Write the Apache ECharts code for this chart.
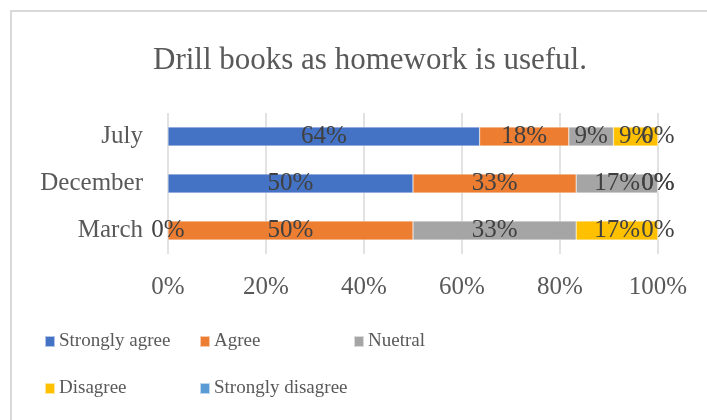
<!DOCTYPE html>
<html>
<head>
<meta charset="utf-8">
<script src="https://cdn.jsdelivr.net/npm/echarts@6/dist/echarts.min.js"></script>
<style>
  html, body { margin: 0; padding: 0; background: #fff; }
  #chart { width: 707px; height: 420px; }
</style>
</head>
<body>
<div id="chart"></div>
<script>
// survey data, percent of respondents
var months = ['March', 'December', 'July'];
var stronglyAgree = [0, 50, 63.6];
var agree = [50, 33.3, 18.2];
var nuetral = [33.3, 16.7, 9.1];
var disagree = [16.7, 0, 9.1];
var stronglyDisagree = [0, 0, 0];
var xTicks = [0, 20, 40, 60, 80, 100];

var seriesNames = ['Strongly agree', 'Agree', 'Nuetral', 'Disagree', 'Strongly disagree'];
var seriesData = [stronglyAgree, agree, nuetral, disagree, stronglyDisagree];
var colors = ['#4472C4', '#ED7D31', '#A5A5A5', '#FFC000', '#5B9BD5'];
var fontFam = 'Liberation Serif';

var chart = echarts.init(document.getElementById('chart'));

// one legend per item so they sit in Excel-like columns
var legendPos = [[44, 332], [199, 332], [353, 332], [44, 379], [199, 379]];
var legends = seriesNames.map(function (name, i) {
  return {
    data: [name],
    left: legendPos[i][0],
    top: legendPos[i][1],
    icon: 'rect',
    itemWidth: 10,
    itemHeight: 11,
    itemGap: 0,
    padding: 0,
    textStyle: { fontFamily: fontFam, fontSize: 19, color: '#595959', padding: [0, 0, 0, -1] }
  };
});

var option = {
  backgroundColor: '#ffffff',
  color: colors,
  animation: false,
  title: {
    text: 'Drill books as homework is useful.',
    left: 148,
    top: 40,
    textStyle: { fontFamily: fontFam, fontSize: 31, fontWeight: 'normal', color: '#595959' }
  },
  graphic: [{
    type: 'rect',
    shape: { x: 11, y: 11, width: 720, height: 440 },
    style: { fill: 'none', stroke: '#D9D9D9', lineWidth: 2 },
    silent: true
  }],
  legend: legends,
  grid: { left: 168, right: 49, top: 113, bottom: 166 },
  xAxis: {
    type: 'value',
    min: 0,
    max: 100,
    interval: 20,
    axisLine: { show: false },
    axisTick: { show: false },
    splitLine: { lineStyle: { color: '#D9D9D9', width: 1.5 } },
    axisLabel: {
      margin: 21,
      fontFamily: fontFam,
      fontSize: 25,
      color: '#595959',
      formatter: function (v) { return xTicks.indexOf(v) >= 0 ? v + '%' : ''; }
    }
  },
  yAxis: {
    type: 'category',
    data: months,
    axisLine: { show: false },
    axisTick: { show: false },
    axisLabel: { margin: 25, fontFamily: fontFam, fontSize: 25, color: '#595959' }
  },
  series: seriesNames.map(function (name, i) {
    return {
      name: name,
      type: 'bar',
      stack: 'total',
      barWidth: 19,
      data: seriesData[i],
      itemStyle: { borderColor: 'rgba(255,255,255,0.6)', borderWidth: 0.5 },
      label: {
        show: true,
        position: 'inside',
        fontFamily: fontFam,
        fontSize: 25,
        color: '#404040',
        formatter: function (p) { return Math.round(p.value) + '%'; }
      }
    };
  })
};

chart.setOption(option);
</script>
</body>
</html>
